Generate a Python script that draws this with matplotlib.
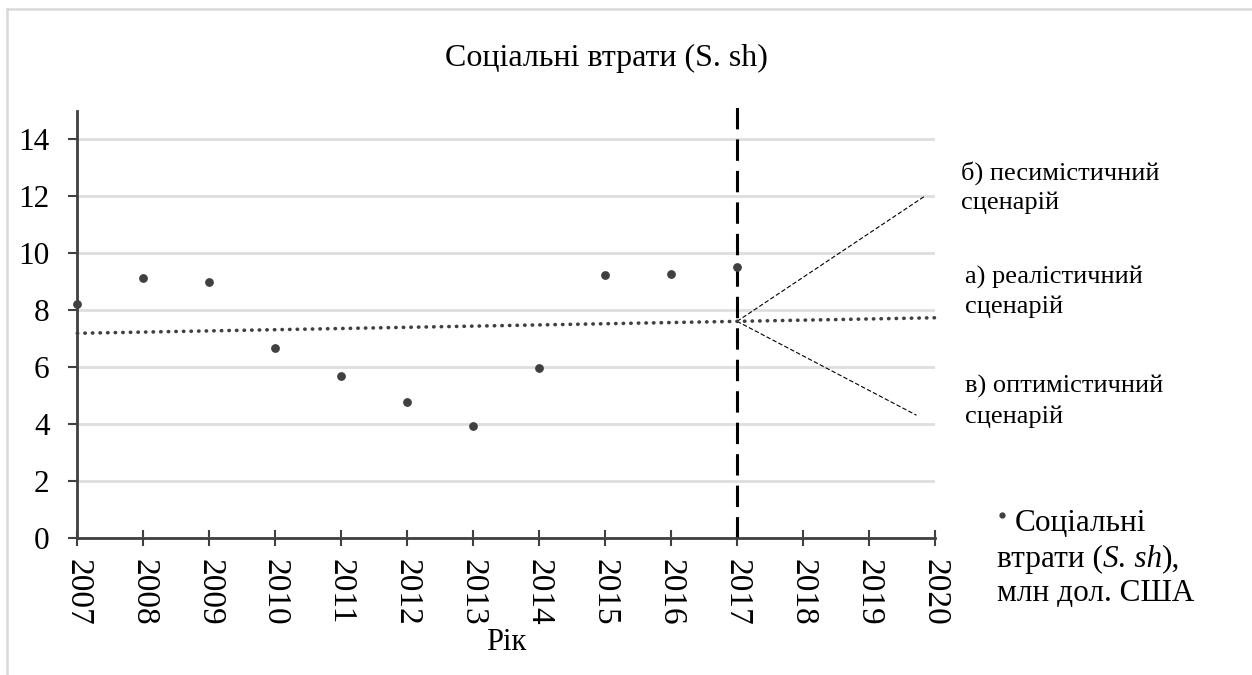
import numpy as np
import matplotlib
matplotlib.use('Agg')
import matplotlib.pyplot as plt
from matplotlib.lines import Line2D

plt.rcParams['font.family'] = ['Liberation Serif', 'DejaVu Serif']

# дані
years = [2007, 2008, 2009, 2010, 2011, 2012, 2013, 2014, 2015, 2016, 2017]
losses = [8.2, 9.12, 8.99, 6.65, 5.68, 4.75, 3.93, 5.96, 9.22, 9.27, 9.49]
tick_years = list(range(2007, 2021))
y_ticks = [0, 2, 4, 6, 8, 10, 12, 14]
forecast_year = 2017
# кінці ліній сценаріїв (рік, значення)
pessimistic_end = (2019.85, 12.0)
optimistic_end = (2019.72, 4.3)

W, H = 1252, 675


def px(x, y):
    # піксельні координати -> частки фігури
    return x / W, 1 - y / H


fig = plt.figure(figsize=(W / 100, H / 100), dpi=100)
ax = fig.add_axes([77.3 / W, 1 - 537.7 / H, (935 - 77.3) / W, (537.7 - 110.5) / H])

dark = '#404040'

# лінійний тренд
coef = np.polyfit(years, losses, 1)
trend_x = np.array([tick_years[0], tick_years[-1]])
trend_y = np.polyval(coef, trend_x)
ax.plot(trend_x, trend_y, color=dark, lw=2.6, linestyle=(0, (0.1, 2.0)),
        dash_capstyle='round', zorder=3, clip_on=False)

ax.scatter(years, losses, s=28, color=dark, zorder=4, clip_on=False)

# вертикальна лінія прогнозу
ax.plot([forecast_year, forecast_year], [0, 15.2], color='black', lw=2.2,
        linestyle=(0, (7, 3.3)), clip_on=False, zorder=2)

# лінії сценаріїв
y0 = np.polyval(coef, forecast_year)
for end in (pessimistic_end, optimistic_end):
    ax.plot([forecast_year, end[0]], [y0, end[1]], color='black', lw=0.8,
            linestyle=(0, (4, 2)), clip_on=False, zorder=2)

ax.set_xlim(tick_years[0], tick_years[-1])
ax.set_ylim(0, 15)
ax.set_xticks(tick_years)
ax.set_xticklabels([str(y) for y in tick_years], rotation=-90, fontsize=24)
ax.set_yticks(y_ticks)
ax.set_yticklabels([str(v) for v in y_ticks], fontsize=22.5)
ax.tick_params(axis='x', direction='inout', length=12, width=1.5, color=dark, pad=9)
ax.tick_params(axis='y', direction='out', length=6.5, width=1.5, color=dark, pad=13.5)
ax.grid(axis='y', color='#dedede', lw=2)
ax.set_axisbelow(True)
for s in ('top', 'right'):
    ax.spines[s].set_visible(False)
for s in ('left', 'bottom'):
    ax.spines[s].set_color(dark)
    ax.spines[s].set_linewidth(2)

# рамка
fig.add_artist(Line2D([7 / W, 7 / W], [0, 1 - 9 / H], color='#d9d9d9', lw=1.8))
fig.add_artist(Line2D([7 / W, 1], [1 - 9 / H, 1 - 9 / H], color='#d9d9d9', lw=1.8))

fig.text(*px(606, 66), 'Соціальні втрати (S. sh)', fontsize=23, ha='center',
         va='baseline')
fig.text(*px(506, 650), 'Рік', fontsize=22, ha='center', va='baseline')

scen = [
    (960.7, 179.3, 'б) песимістичний'), (960.7, 209.3, 'сценарій'),
    (965, 283.3, 'а) реалістичний'), (965, 313.3, 'сценарій'),
    (965, 392.7, 'в) оптимістичний'), (965, 422.7, 'сценарій'),
]
for x, y, t in scen:
    fig.text(*px(x, y), t, fontsize=19, va='baseline')

# легенда
fs = 22.5
fig.add_artist(Line2D([px(1002, 0)[0]], [px(0, 515)[1]], marker='o', ms=3.5,
                      color=dark, lw=0))
fig.text(*px(1015, 530.7), 'Соціальні', fontsize=fs, va='baseline')
t1 = fig.text(*px(997, 566.7), 'втрати (', fontsize=fs, va='baseline')
t2 = ax.annotate('S. sh', xy=(1, 0), xycoords=t1, fontsize=fs, style='italic',
                 va='bottom', annotation_clip=False)
ax.annotate('),', xy=(1, 0), xycoords=t2, fontsize=fs, va='bottom',
            annotation_clip=False)
fig.text(*px(997, 601), 'млн дол. США', fontsize=fs, va='baseline')

fig.savefig('out.png', dpi=100)
